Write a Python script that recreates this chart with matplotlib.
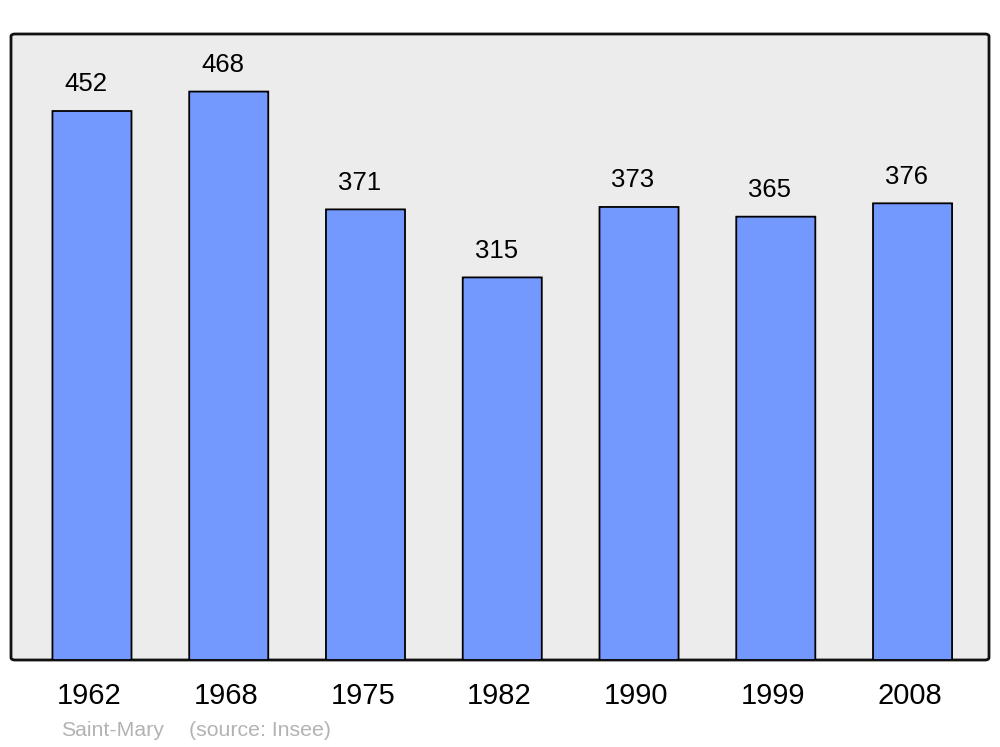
import matplotlib.pyplot as plt
from matplotlib.patches import FancyBboxPatch

years = ["1962", "1968", "1975", "1982", "1990", "1999", "2008"]
population = [452, 468, 371, 315, 373, 365, 376]
commune = "Saint-Mary"
source = "(source: Insee)"

plt.rcParams['font.family'] = ['Liberation Sans', 'DejaVu Sans']

fig = plt.figure(figsize=(10, 7.47), dpi=100)
ax = fig.add_axes([11 / 1000, 87 / 747, 978 / 1000, 626 / 747])
ax.set_facecolor('none')

# background frame with rounded corners
frame = FancyBboxPatch((0, 0), 1, 1, boxstyle="round,pad=0,rounding_size=0.004",
                       transform=ax.transAxes, facecolor='#ececec',
                       edgecolor='#111111', linewidth=2, zorder=0, clip_on=False)
ax.add_patch(frame)

x = list(range(len(years)))
for i, v in zip(x, population):
    bar = FancyBboxPatch((i - 0.289, 0), 0.578, v,
                         boxstyle="round,pad=0,rounding_size=0.02",
                         mutation_aspect=1.2146 * 136.75 / 100,
                         facecolor='#7399ff', edgecolor='black', linewidth=1.3, zorder=2)
    ax.add_patch(bar)
    ax.text(i - 0.045, v + 22, str(v), ha='center', va='center', fontsize=18.5, zorder=3)

ax.set_xlim(-0.592, 6.559)
ax.set_ylim(0, 515.4)
ax.set_xticks([])
ax.set_yticks([])
for s in ax.spines.values():
    s.set_visible(False)

for i, y in zip(x, years):
    ax.text(i - 0.02, -29.5, y, ha='center', va='center', fontsize=21, clip_on=False)

fig.text(61 / 1000, 1 - 731 / 747, commune, ha='left', va='center', fontsize=15.3, color='#b3b3b3')
fig.text(189 / 1000, 1 - 731 / 747, source, ha='left', va='center', fontsize=15.3, color='#b3b3b3')

fig.savefig("out.png", dpi=100, facecolor='white')
